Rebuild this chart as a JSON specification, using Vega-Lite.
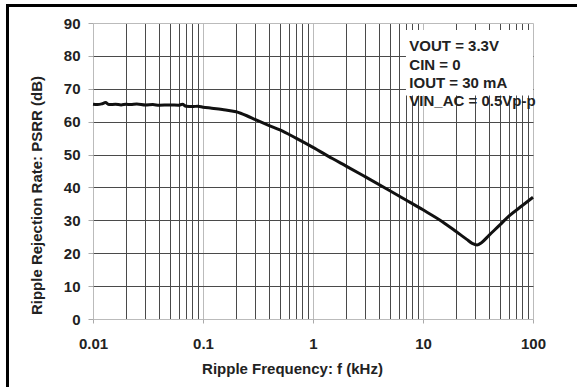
{
  "$schema": "https://vega.github.io/schema/vega-lite/v6.json",
  "width": 440,
  "height": 296,
  "autosize": "none",
  "padding": {"left": 93, "top": 23, "right": 44, "bottom": 68},
  "background": "white",
  "config": {
    "view": {"stroke": null},
    "font": "Liberation Sans",
    "axis": {
      "labelFont": "Liberation Sans",
      "labelFontWeight": "bold",
      "labelFontSize": 15,
      "labelColor": "#222",
      "titleFont": "Liberation Sans",
      "titleFontWeight": "bold",
      "titleFontSize": 15,
      "titleColor": "#222",
      "domain": false,
      "gridWidth": 1,
      "gridOpacity": 1
    }
  },
  "layer": [
    {
      "data": {
        "values": [
          {"f": 0.01, "psrr": 65.3},
          {"f": 0.011, "psrr": 65.2},
          {"f": 0.012, "psrr": 65.4},
          {"f": 0.013, "psrr": 65.8},
          {"f": 0.014, "psrr": 65.2},
          {"f": 0.016, "psrr": 65.3},
          {"f": 0.018, "psrr": 65.1},
          {"f": 0.02, "psrr": 65.3},
          {"f": 0.022, "psrr": 65.2},
          {"f": 0.025, "psrr": 65.4},
          {"f": 0.03, "psrr": 65.1},
          {"f": 0.035, "psrr": 65.2},
          {"f": 0.04, "psrr": 65.0},
          {"f": 0.05, "psrr": 65.1},
          {"f": 0.06, "psrr": 65.0},
          {"f": 0.065, "psrr": 65.3},
          {"f": 0.07, "psrr": 64.7},
          {"f": 0.08, "psrr": 64.6},
          {"f": 0.09, "psrr": 64.7},
          {"f": 0.1, "psrr": 64.4},
          {"f": 0.12, "psrr": 64.1},
          {"f": 0.15, "psrr": 63.7},
          {"f": 0.2, "psrr": 63.0},
          {"f": 0.25, "psrr": 61.8},
          {"f": 0.3, "psrr": 60.6},
          {"f": 0.4, "psrr": 58.8},
          {"f": 0.5, "psrr": 57.5},
          {"f": 0.7, "psrr": 55.0},
          {"f": 1, "psrr": 52.2},
          {"f": 1.5, "psrr": 48.8},
          {"f": 2, "psrr": 46.5},
          {"f": 3, "psrr": 43.2},
          {"f": 5, "psrr": 39.0},
          {"f": 7, "psrr": 36.2},
          {"f": 10, "psrr": 33.2},
          {"f": 15, "psrr": 29.6},
          {"f": 20, "psrr": 26.6},
          {"f": 25, "psrr": 24.2},
          {"f": 28, "psrr": 23.0},
          {"f": 31, "psrr": 22.5},
          {"f": 34, "psrr": 23.2},
          {"f": 40, "psrr": 25.5},
          {"f": 50, "psrr": 28.6},
          {"f": 60, "psrr": 31.2},
          {"f": 80, "psrr": 34.5},
          {"f": 100, "psrr": 37.0}
        ]
      },
      "mark": {"type": "line", "color": "#111111", "strokeWidth": 3, "interpolate": "monotone"},
      "encoding": {
        "x": {
          "field": "f",
          "type": "quantitative",
          "scale": {"type": "log", "domain": [0.01, 100], "nice": false},
          "axis": {
            "values": [0.01,0.02,0.03,0.04,0.05,0.06,0.07,0.08,0.09,0.1,0.2,0.3,0.4,0.5,0.6,0.7,0.8,0.9,1,2,3,4,5,6,7,8,9,10,20,30,40,50,60,70,80,90,100],
            "grid": true,
            "gridColor": {"condition": {"test": "indexof([0.01,0.1,1,10,100], datum.value) >= 0", "value": "#bbbbbb"}, "value": "#4a4a4a"},
            "tickColor": {"condition": {"test": "indexof([0.01,0.1,1,10,100], datum.value) >= 0", "value": "#aaaaaa"}, "value": "transparent"},
            "tickSize": 4,
            "labelPadding": 13,
            "labelBaseline": "top",
            "labelExpr": "datum.value == 0.01 ? '0.01' : datum.value == 0.1 ? '0.1' : datum.value == 1 ? '1' : datum.value == 10 ? '10' : datum.value == 100 ? '100' : ''",
            "labelFlush": false,
            "labelOverlap": false,
            "title": "Ripple Frequency: f (kHz)",
            "titleX": 199,
            "titleY": 54,
            "titleAlign": "center",
            "titleBaseline": "alphabetic",
            "titleAnchor": null
          }
        },
        "y": {
          "field": "psrr",
          "type": "quantitative",
          "scale": {"domain": [0, 90], "nice": false, "zero": false},
          "axis": {
            "tickCount": 10,
            "tickMinStep": 10,
            "grid": true,
            "gridColor": {"condition": {"test": "datum.value == 0 || datum.value == 90", "value": "#bbbbbb"}, "value": "#4a4a4a"},
            "tickColor": "#aaaaaa",
            "tickSize": 5,
            "labelPadding": 8,
            "labelOverlap": false,
            "labelFlush": false,
            "title": "Ripple Rejection Rate: PSRR (dB)",
            "titleAngle": 270,
            "titleX": -51.3,
            "titleY": 172,
            "titleAlign": "center",
            "titleBaseline": "alphabetic",
            "titleAnchor": null
          }
        }
      }
    },
    {
      "data": {"values": [{}]},
      "mark": {"type": "rect", "fill": "white", "stroke": null},
      "encoding": {
        "x": {"datum": 7.0},
        "x2": {"datum": 100},
        "y": {"datum": 87.9},
        "y2": {"datum": 67.95}
      }
    },
    {
      "data": {"values": [{"note": ["VOUT = 3.3V", "CIN = 0", "IOUT = 30 mA", "VIN_AC = 0.5Vp-p"]}]},
      "mark": {"type": "text", "align": "left", "baseline": "top", "font": "Liberation Sans", "fontWeight": "bold", "fontSize": 15, "color": "#222222", "lineHeight": 18.2},
      "encoding": {
        "x": {"datum": 7.51},
        "y": {"datum": 85.0},
        "text": {"field": "note"}
      }
    },
    {
      "data": {"values": [{}]},
      "mark": {"type": "rect", "fill": null, "stroke": "black", "strokeWidth": 3, "clip": false},
      "encoding": {
        "x": {"datum": 0.00167},
        "x2": {"datum": 406},
        "y": {"datum": 95.32},
        "y2": {"datum": -24.6}
      }
    }
  ]
}
